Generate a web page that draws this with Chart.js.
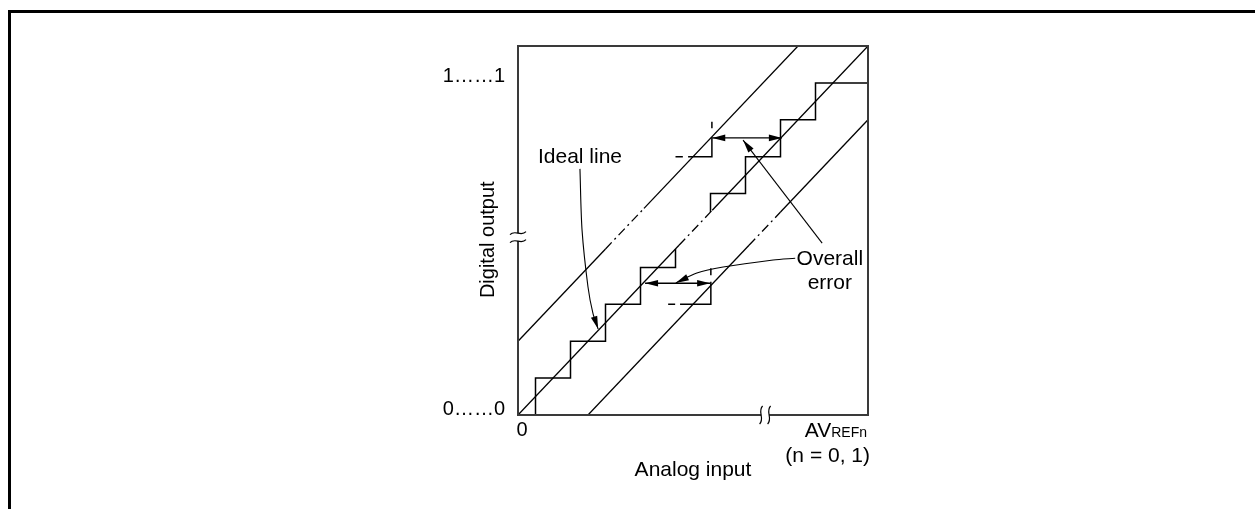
<!DOCTYPE html>
<html>
<head>
<meta charset="utf-8">
<script src="https://cdn.jsdelivr.net/npm/chart.js@4.4.0/dist/chart.umd.min.js"></script>
<style>
  html, body { margin: 0; padding: 0; background: #fff; overflow: hidden; }
  #frame { position: absolute; left: 8px; top: 10px; width: 1400px; height: 600px;
           border-top: 3px solid #000; border-left: 3px solid #000; }
  #wrap { position: absolute; left: 0; top: 0; width: 1255px; height: 509px; }
</style>
</head>
<body>
<div id="frame"></div>
<div id="wrap"><canvas id="adcChart" width="1255" height="509"></canvas></div>
<script>
// axis ticks
const xTicks = [0];
const xTickLabels = ['0'];
const yTicks = [0, 0.9];
const yTickLabels = ['0……0', '1……1'];

// ideal line and the two error bounds: end points plus the broken (dashed) part
const idealX = [0, 0.46, 0.555, 1];
const idealY = [0, 0.46, 0.555, 1];
const upperX = [0, 0.25, 0.36, 0.8];
const upperY = [0.2, 0.45, 0.56, 1];
const lowerX = [0.2, 0.66, 0.75, 1];
const lowerY = [0, 0.46, 0.55, 0.8];

// code staircases (transition input, output level)
const stairLowX = [0, 0.05, 0.15, 0.25, 0.35, 0.45];
const stairLowY = [0, 0.1, 0.2, 0.3, 0.4, 0.45];
const stairHighX = [0.55, 0.55, 0.65, 0.75, 0.85, 1];
const stairHighY = [0.55, 0.6, 0.7, 0.8, 0.9, 0.9];

// shifted steps touching the bounds (null = gap)
const shiftHighX = [0.45, 0.471, 0.471, 0.486, 0.554, 0.554, 0.554, 0.554, 0.554];
const shiftHighY = [0.7, 0.7, null, 0.7, 0.7, 0.753, null, 0.777, 0.795];
const shiftLowX = [0.429, 0.449, 0.449, 0.463, 0.551, 0.551, 0.551, 0.551, 0.551];
const shiftLowY = [0.3, 0.3, null, 0.3, 0.3, 0.361, null, 0.379, 0.398];

// overall error spans
const errHighX = [0.555, 0.754];
const errHighY = [0.751, 0.751];
const errLowX = [0.363, 0.549];
const errLowY = [0.357, 0.357];

// callout leaders
const idealPtrX = [0.177, 0.183, 0.2, 0.214, 0.229];
const idealPtrY = [0.667, 0.501, 0.347, 0.276, 0.233];
const errPtrHighX = [0.869, 0.643];
const errPtrHighY = [0.466, 0.745];
const errPtrLowX = [0.792, 0.729, 0.586, 0.511, 0.451];
const errPtrLowY = [0.425, 0.42, 0.401, 0.385, 0.358];

// axis break marks
const yBreak = 0.482;
const xBreak = 0.706;

const FONT = '"Liberation Sans", Arial, Helvetica, sans-serif';

function pts(xs, ys) {
	return xs.map(function (x, i) { return {x: x, y: ys[i]}; });
}

function line(xs, ys, extra) {
	return Object.assign({
		data: pts(xs, ys),
		borderColor: '#000',
		borderWidth: 1.3,
		pointRadius: 0,
		fill: false,
		tension: 0,
		spanGaps: false
	}, extra || {});
}

// middle segment of the long lines is drawn dash-dot (axis break zone)
const breakDash = function (ctx) { return ctx.p0DataIndex === 1 ? [9, 4, 2, 4] : undefined; };

function arrowHead(ctx, tip, from) {
	const ang = Math.atan2(tip.y - from.y, tip.x - from.x);
	ctx.save();
	ctx.translate(tip.x, tip.y);
	ctx.rotate(ang);
	ctx.beginPath();
	ctx.moveTo(0, 0);
	ctx.lineTo(-13, -3.3);
	ctx.lineTo(-13, 3.3);
	ctx.closePath();
	ctx.fill();
	ctx.restore();
}

const decorations = {
	id: 'decorations',
	afterDatasetsDraw: function (chart) {
		const ctx = chart.ctx;
		const a = chart.chartArea;
		const x = chart.scales.x, y = chart.scales.y;
		ctx.save();

		// plot frame
		ctx.strokeStyle = '#3a3a3a';
		ctx.lineWidth = 2;
		ctx.strokeRect(a.left, a.top, a.right - a.left, a.bottom - a.top);

		// break on the y axis
		ctx.strokeStyle = '#000';
		ctx.lineWidth = 1.2;
		let cx = a.left, cy = y.getPixelForValue(yBreak);
		ctx.fillStyle = '#fff';
		ctx.fillRect(cx - 3, cy - 4, 6, 8);
		[-4, 4].forEach(function (d) {
			ctx.beginPath();
			ctx.moveTo(cx - 8, cy + d + 1.5);
			ctx.bezierCurveTo(cx - 3, cy + d - 4, cx + 3, cy + d + 4, cx + 8, cy + d - 1.5);
			ctx.stroke();
		});

		// break on the x axis
		cx = x.getPixelForValue(xBreak); cy = a.bottom;
		ctx.fillRect(cx - 4, cy - 3, 8, 6);
		[-4, 4].forEach(function (d) {
			ctx.beginPath();
			ctx.moveTo(cx + d + 1.5, cy - 9);
			ctx.bezierCurveTo(cx + d - 4, cy - 3, cx + d + 4, cy + 3, cx + d - 1.5, cy + 9);
			ctx.stroke();
		});

		// arrow heads
		ctx.fillStyle = '#000';
		chart.data.datasets.forEach(function (ds, i) {
			if (!ds.arrows) return;
			const el = chart.getDatasetMeta(i).data;
			const n = el.length;
			if (ds.arrows.indexOf('end') >= 0) arrowHead(ctx, el[n - 1], el[n - 2]);
			if (ds.arrows.indexOf('start') >= 0) arrowHead(ctx, el[0], el[1]);
		});

		// texts
		ctx.fillStyle = '#000';
		ctx.textBaseline = 'alphabetic';
		ctx.font = '21px ' + FONT;
		ctx.textAlign = 'left';
		ctx.fillText('Ideal line', x.getPixelForValue(0.057), 163);
		ctx.textAlign = 'center';
		ctx.fillText('Overall', x.getPixelForValue(0.891), 265);
		ctx.fillText('error', x.getPixelForValue(0.891), 289);

		// x end label AVREFn
		ctx.textAlign = 'right';
		ctx.font = '14px ' + FONT;
		const subW = ctx.measureText('REFn').width;
		ctx.fillText('REFn', a.right - 1, a.bottom + 22);
		ctx.font = '21px ' + FONT;
		ctx.fillText('AV', a.right - 1 - subW, a.bottom + 22);
		ctx.fillText('(n = 0, 1)', a.right + 2, a.bottom + 47);

		// y axis title
		ctx.save();
		ctx.translate(a.left - 30, y.getPixelForValue(0.475));
		ctx.rotate(-Math.PI / 2);
		ctx.textAlign = 'center';
		ctx.textBaseline = 'middle';
		ctx.font = '20px ' + FONT;
		ctx.fillText('Digital output', 0, 0);
		ctx.restore();

		ctx.restore();
	}
};

new Chart(document.getElementById('adcChart').getContext('2d'), {
	type: 'line',
	data: {
		datasets: [
			line(idealX, idealY, {segment: {borderDash: breakDash}}),
			line(upperX, upperY, {segment: {borderDash: breakDash}}),
			line(lowerX, lowerY, {segment: {borderDash: breakDash}}),
			line(stairLowX, stairLowY, {stepped: 'before', borderWidth: 1.5}),
			line(stairHighX, stairHighY, {stepped: 'before', borderWidth: 1.5}),
			line(shiftHighX, shiftHighY, {borderWidth: 1.5}),
			line(shiftLowX, shiftLowY, {borderWidth: 1.5}),
			line(errHighX, errHighY, {arrows: ['start', 'end']}),
			line(errLowX, errLowY, {arrows: ['start', 'end']}),
			line(idealPtrX, idealPtrY, {tension: 0.3, borderWidth: 1.1, arrows: ['end']}),
			line(errPtrHighX, errPtrHighY, {borderWidth: 1.1, arrows: ['end']}),
			line(errPtrLowX, errPtrLowY, {tension: 0.3, borderWidth: 1.1, arrows: ['end']})
		]
	},
	options: {
		responsive: false,
		animation: false,
		layout: {padding: {left: 418, top: 46, right: 387, bottom: 26}},
		plugins: {legend: {display: false}, tooltip: {enabled: false}},
		scales: {
			x: {
				type: 'linear', min: 0, max: 1,
				grid: {display: false, drawTicks: false},
				border: {display: false},
				afterBuildTicks: function (s) { s.ticks = xTicks.map(function (v) { return {value: v}; }); },
				afterFit: function (s) { s.height = 68; },
				ticks: {
					padding: 3, labelOffset: 4, color: '#000', autoSkip: false, maxRotation: 0,
					font: {size: 20, family: FONT},
					callback: function (v, i) { return xTickLabels[i]; }
				},
				title: {display: true, text: 'Analog input', color: '#000', padding: 0, font: {size: 21, family: FONT}}
			},
			y: {
				type: 'linear', min: 0, max: 1,
				grid: {display: false, drawTicks: false},
				border: {display: false},
				afterBuildTicks: function (s) { s.ticks = yTicks.map(function (v) { return {value: v}; }); },
				afterFit: function (s) { s.width = 100; },
				ticks: {
					padding: 13, labelOffset: -6, color: '#000', autoSkip: false,
					font: {size: 20, family: FONT},
					callback: function (v, i) { return yTickLabels[i]; }
				}
			}
		}
	},
	plugins: [decorations]
});
</script>
</body>
</html>
